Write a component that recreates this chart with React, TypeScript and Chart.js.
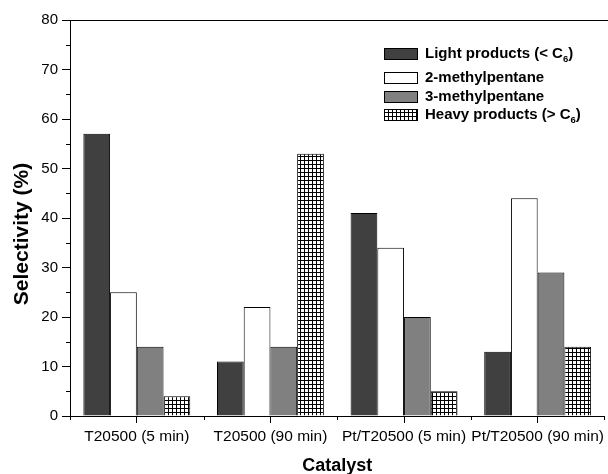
import React, { useEffect, useRef } from 'react';
import { Chart, registerables } from 'chart.js';

Chart.register(...registerables);

const categories = ['T20500 (5 min)', 'T20500 (90 min)', 'Pt/T20500 (5 min)', 'Pt/T20500 (90 min)'];
const lightProducts = [57, 11, 41, 13];
const methylpentane2 = [25, 22, 34, 44];
const methylpentane3 = [14, 14, 20, 29];
const heavyProducts = [4, 53, 5, 14];
// legend labels: text before subscript, subscript, text after subscript
const legendLabels: [string, string, string][] = [
  ['Light products (< C', '6', ')'],
  ['2-methylpentane', '', ''],
  ['3-methylpentane', '', ''],
  ['Heavy products (> C', '6', ')'],
];
const yMin = 0;
const yMax = 80;
const yStep = 10;
const xTitle = 'Catalyst';
const yTitle = 'Selectivity (%)';

const FONT = '"Liberation Sans", Arial, sans-serif';

function makeHatch(ctx: CanvasRenderingContext2D): CanvasPattern {
  const c = document.createElement('canvas');
  c.width = 4;
  c.height = 4;
  const g = c.getContext('2d')!;
  g.fillStyle = '#ffffff';
  g.fillRect(0, 0, 4, 4);
  g.fillStyle = '#000000';
  g.fillRect(0, 0, 4, 1);
  g.fillRect(0, 0, 1, 4);
  return ctx.createPattern(c, 'repeat')!;
}

const decorPlugin = {
  id: 'decor',
  afterDraw(chart: any) {
    const { ctx, chartArea } = chart;
    const { left, right, top, bottom } = chartArea;
    const ys = chart.scales.y;
    const xs = chart.scales.x;
    ctx.save();
    ctx.strokeStyle = '#000';
    ctx.lineWidth = 1;
    ctx.beginPath();
    // top frame line
    ctx.moveTo(left, Math.round(top) + 0.5);
    ctx.lineTo(chart.width, Math.round(top) + 0.5);
    // minor y ticks
    for (let v = yMin + yStep / 2; v < yMax; v += yStep) {
      const y = Math.round(ys.getPixelForValue(v)) + 0.5;
      ctx.moveTo(left - 4, y);
      ctx.lineTo(left, y);
    }
    // category boundary ticks
    const n = categories.length;
    for (let i = 0; i <= n; i++) {
      let x: number;
      if (i === 0) x = left;
      else if (i === n) x = right;
      else x = (xs.getPixelForValue(i - 1) + xs.getPixelForValue(i)) / 2;
      x = Math.round(x) + 0.5;
      ctx.moveTo(x, bottom);
      ctx.lineTo(x, bottom + 4);
    }
    ctx.stroke();

    // y axis title
    ctx.save();
    ctx.translate(22, 234);
    ctx.rotate(-Math.PI / 2);
    ctx.fillStyle = '#000';
    ctx.font = `bold 21px ${FONT}`;
    ctx.textAlign = 'center';
    ctx.textBaseline = 'middle';
    ctx.fillText(yTitle, 0, 0);
    ctx.restore();

    // legend
    const boxX = 384;
    const boxW = 33;
    const boxH = 11;
    const rows = [53.5, 77.5, 96.5, 114.5];
    chart.data.datasets.forEach((ds: any, i: number) => {
      const cy = rows[i];
      const by = Math.round(cy - boxH / 2) + 0.5;
      ctx.fillStyle = ds.backgroundColor;
      ctx.fillRect(boxX + 0.5, by, boxW, boxH);
      ctx.strokeStyle = '#000';
      ctx.strokeRect(boxX + 0.5, by, boxW, boxH);
      const [pre, sub, post] = legendLabels[i];
      ctx.fillStyle = '#000';
      ctx.textBaseline = 'middle';
      ctx.textAlign = 'left';
      ctx.font = `bold 15px ${FONT}`;
      let tx = 425;
      ctx.fillText(pre, tx, cy);
      tx += ctx.measureText(pre).width;
      if (sub) {
        ctx.font = `bold 9.5px ${FONT}`;
        ctx.fillText(sub, tx, cy + 6);
        tx += ctx.measureText(sub).width;
        ctx.font = `bold 15px ${FONT}`;
      }
      if (post) ctx.fillText(post, tx, cy);
    });
    ctx.restore();
  },
};

export default function App() {
  const ref = useRef<HTMLCanvasElement>(null);
  useEffect(() => {
    const canvas = ref.current!;
    const ctx = canvas.getContext('2d')!;
    const hatch = makeHatch(ctx);
    const common = {
      borderColor: '#000000',
      borderWidth: 1,
      barPercentage: 1,
      categoryPercentage: 0.8,
    };
    const chart = new Chart(canvas, {
      type: 'bar',
      data: {
        labels: categories,
        datasets: [
          { label: 'Light products (< C6)', data: lightProducts, backgroundColor: '#404040', ...common },
          { label: '2-methylpentane', data: methylpentane2, backgroundColor: '#ffffff', ...common },
          { label: '3-methylpentane', data: methylpentane3, backgroundColor: '#808080', ...common },
          { label: 'Heavy products (> C6)', data: heavyProducts, backgroundColor: hatch as any, ...common },
        ],
      },
      options: {
        responsive: false,
        animation: false,
        layout: { padding: { top: 20, right: 0, left: 0, bottom: 0 } },
        plugins: {
          legend: { display: false },
          tooltip: { enabled: false },
        },
        scales: {
          x: {
            offset: true,
            grid: {
              offset: false,
              drawOnChartArea: false,
              drawTicks: true,
              tickLength: 7,
              color: '#000',
            },
            border: { color: '#000', width: 1 },
            ticks: {
              color: '#000',
              font: { family: FONT, size: 15.5 },
              padding: 4,
              autoSkip: false,
              maxRotation: 0,
              minRotation: 0,
            },
            title: {
              display: true,
              text: xTitle,
              color: '#000',
              font: { family: FONT, size: 18, weight: 'bold', lineHeight: '16px' },
              padding: { top: 0, bottom: 0 },
            },
            afterFit: (scale: any) => {
              scale.height = 58;
            },
          },
          y: {
            min: yMin,
            max: yMax,
            grid: {
              drawOnChartArea: false,
              drawTicks: true,
              tickLength: 8,
              color: '#000',
            },
            border: { color: '#000', width: 1 },
            ticks: {
              stepSize: yStep,
              color: '#000',
              font: { family: FONT, size: 15 },
              padding: 4,
            },
            title: { display: false },
            afterFit: (scale: any) => {
              scale.width = 70;
            },
          },
        },
      },
      plugins: [decorPlugin],
    });
    return () => chart.destroy();
  }, []);
  return (
    <canvas
      ref={ref}
      width={608}
      height={474}
      style={{ position: 'fixed', left: 0, top: 0, display: 'block' }}
    />
  );
}
